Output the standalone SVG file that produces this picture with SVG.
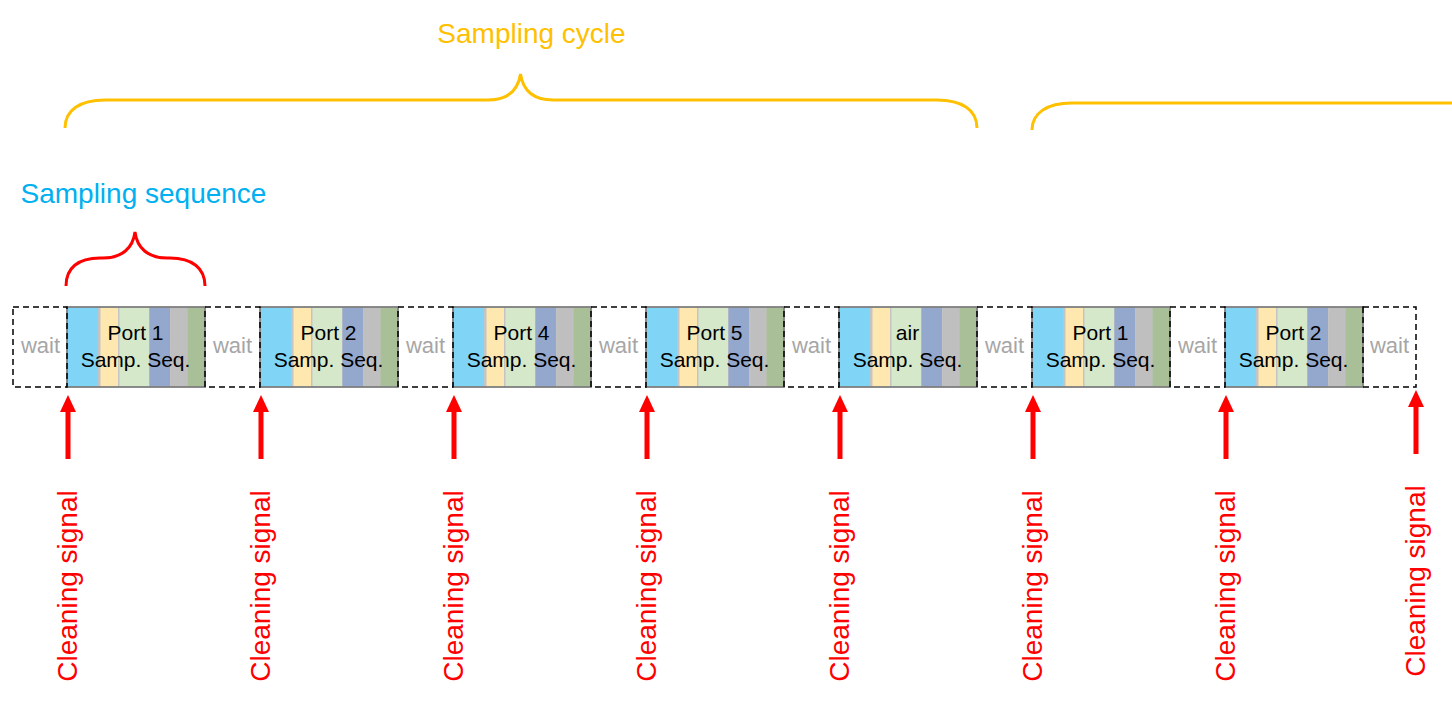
<svg xmlns="http://www.w3.org/2000/svg" width="1452" height="702" viewBox="0 0 1452 702">
<style>
  .lbl{font-family:"Liberation Sans",Arial,sans-serif;}
  .wait{fill:none;stroke:#000;stroke-width:1.5;stroke-dasharray:6 4;}
  .waitt{font-family:"Liberation Sans",Arial,sans-serif;font-size:22px;fill:#A6A6A6;text-anchor:middle;}
  .blk{fill:none;stroke:#7F7F7F;stroke-width:1.8;}
  .blkt{font-family:"Liberation Sans",Arial,sans-serif;font-size:21px;fill:#000;text-anchor:middle;}
  .clean{font-family:"Liberation Sans",Arial,sans-serif;font-size:28px;fill:#FF0000;text-anchor:middle;}
  .arr{fill:#FF0000;}
</style>
<defs>
  <g id="stripes">
    <rect x="0" y="0" width="138" height="80" fill="#C4C4C4"/>
    <rect x="0" y="0" width="31" height="80" fill="#80D5F7"/>
    <rect x="33.5" y="0" width="17.5" height="80" fill="#FEE8B0"/>
    <rect x="52.5" y="0" width="29.5" height="80" fill="#D5E8CA"/>
    <rect x="82.5" y="0" width="20.5" height="80" fill="#93A8CC"/>
    <rect x="103.5" y="0" width="16.5" height="80" fill="#BFBFBF"/>
    <rect x="120.5" y="0" width="17.5" height="80" fill="#A8BF98"/>
    <rect x="0" y="0" width="138" height="80" class="blk"/>
  </g>
  <g id="arrow">
    <rect x="-2.5" y="15" width="5" height="49" class="arr"/>
    <polygon points="-8,17 0,0 8,17" class="arr"/>
  </g>
</defs>
<rect width="1452" height="702" fill="#fff"/>

<g id="label-cycle">
  <text class="lbl" x="531.5" y="43" font-size="28" fill="#FFC000" text-anchor="middle">Sampling cycle</text>
</g>
<g id="brace-cycle">
  <path d="M65,128 C65,110 80,100 105,100 L488,100 C508,100 518,90 520.5,74 C523,90 533,100 553,100 L937,100 C962,100 977,110 977,128" fill="none" stroke="#FFC000" stroke-width="3"/>
</g>
<g id="brace-cycle2">
  <path d="M1032,130 C1032,113 1047,103 1072,103 L1452,103" fill="none" stroke="#FFC000" stroke-width="3"/>
</g>
<g id="label-sequence">
  <text class="lbl" x="20.5" y="203" font-size="28" fill="#00B0F0">Sampling sequence</text>
</g>
<g id="brace-sequence">
  <path d="M66,286 C66,268 78,258 100,258 L103,258 C122,258 133,248 135,232 C137,248 148,258 167,258 L170,258 C192,258 205,268 205,286" fill="none" stroke="#FF0000" stroke-width="3"/>
</g>

<g id="block1"><use href="#stripes" x="67" y="307"/><text class="blkt" x="135.5" y="340">Port 1</text><text class="blkt" x="135.5" y="367">Samp. Seq.</text></g>
<g id="block2"><use href="#stripes" x="260" y="307"/><text class="blkt" x="328.5" y="340">Port 2</text><text class="blkt" x="328.5" y="367">Samp. Seq.</text></g>
<g id="block3"><use href="#stripes" x="453" y="307"/><text class="blkt" x="521.5" y="340">Port 4</text><text class="blkt" x="521.5" y="367">Samp. Seq.</text></g>
<g id="block4"><use href="#stripes" x="646" y="307"/><text class="blkt" x="714.5" y="340">Port 5</text><text class="blkt" x="714.5" y="367">Samp. Seq.</text></g>
<g id="block5"><use href="#stripes" x="839" y="307"/><text class="blkt" x="907.5" y="340">air</text><text class="blkt" x="907.5" y="367">Samp. Seq.</text></g>
<g id="block6"><use href="#stripes" x="1032" y="307"/><text class="blkt" x="1100.5" y="340">Port 1</text><text class="blkt" x="1100.5" y="367">Samp. Seq.</text></g>
<g id="block7"><use href="#stripes" x="1225" y="307"/><text class="blkt" x="1293.5" y="340">Port 2</text><text class="blkt" x="1293.5" y="367">Samp. Seq.</text></g>

<g id="wait1"><rect class="wait" x="13" y="307" width="54" height="80"/><text class="waitt" x="40.5" y="353">wait</text></g>
<g id="wait2"><rect class="wait" x="205" y="307" width="55" height="80"/><text class="waitt" x="232.5" y="353">wait</text></g>
<g id="wait3"><rect class="wait" x="398" y="307" width="55" height="80"/><text class="waitt" x="425.5" y="353">wait</text></g>
<g id="wait4"><rect class="wait" x="591" y="307" width="55" height="80"/><text class="waitt" x="618.5" y="353">wait</text></g>
<g id="wait5"><rect class="wait" x="784" y="307" width="55" height="80"/><text class="waitt" x="811.5" y="353">wait</text></g>
<g id="wait6"><rect class="wait" x="977" y="307" width="55" height="80"/><text class="waitt" x="1004.5" y="353">wait</text></g>
<g id="wait7"><rect class="wait" x="1170" y="307" width="55" height="80"/><text class="waitt" x="1197.5" y="353">wait</text></g>
<g id="wait8"><rect class="wait" x="1363" y="307" width="53" height="80"/><text class="waitt" x="1389.5" y="353">wait</text></g>

<g id="connectors">
  <use href="#arrow" x="68" y="395"/>
  <use href="#arrow" x="261" y="395"/>
  <use href="#arrow" x="454" y="395"/>
  <use href="#arrow" x="647" y="395"/>
  <use href="#arrow" x="840" y="395"/>
  <use href="#arrow" x="1033" y="395"/>
  <use href="#arrow" x="1226" y="395"/>
  <use href="#arrow" x="1416" y="390"/>
</g>

<g id="signal1"><text class="clean" transform="translate(77,586) rotate(-90)">Cleaning signal</text></g>
<g id="signal2"><text class="clean" transform="translate(270,586) rotate(-90)">Cleaning signal</text></g>
<g id="signal3"><text class="clean" transform="translate(463,586) rotate(-90)">Cleaning signal</text></g>
<g id="signal4"><text class="clean" transform="translate(656,586) rotate(-90)">Cleaning signal</text></g>
<g id="signal5"><text class="clean" transform="translate(849,586) rotate(-90)">Cleaning signal</text></g>
<g id="signal6"><text class="clean" transform="translate(1042,586) rotate(-90)">Cleaning signal</text></g>
<g id="signal7"><text class="clean" transform="translate(1235,586) rotate(-90)">Cleaning signal</text></g>
<g id="signal8"><text class="clean" transform="translate(1425,581) rotate(-90)">Cleaning signal</text></g>
</svg>
